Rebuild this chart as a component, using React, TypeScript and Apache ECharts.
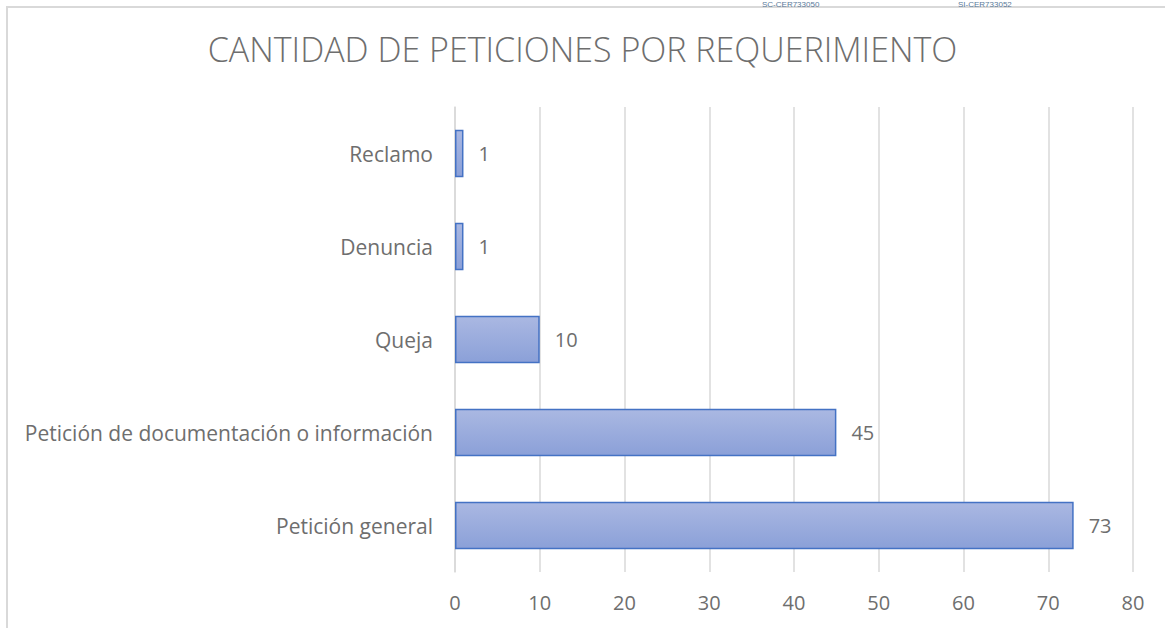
import React, { useEffect, useRef } from "react";
import * as echarts from "echarts";

const categories = ["Petición general", "Petición de documentación o información", "Queja", "Denuncia", "Reclamo"];
const values = [73, 45, 10, 1, 1];
const xTicks = [0, 10, 20, 30, 40, 50, 60, 70, 80];
const titleText = "CANTIDAD DE PETICIONES POR REQUERIMIENTO";
const FONT = "Open Sans";
const TEXT = "#6e6e6e";

export default function App() {
  const ref = useRef<HTMLDivElement>(null);
  useEffect(() => {
    const chart = echarts.init(ref.current!, null, { renderer: "svg" });
    chart.setOption({
      animation: false,
      backgroundColor: "#ffffff",
      title: {
        text: titleText,
        left: "center",
        top: 27,
        textStyle: { fontFamily: FONT, fontWeight: 300, fontSize: 34, color: TEXT },
      },
      grid: { left: 455, right: 32, top: 107, bottom: 56, containLabel: false },
      xAxis: {
        type: "value",
        min: xTicks[0],
        max: xTicks[xTicks.length - 1],
        interval: 10,
        axisLine: { show: false },
        axisTick: { show: false },
        axisLabel: { color: TEXT, fontSize: 20, fontFamily: FONT, margin: 20 },
        splitLine: { show: true, lineStyle: { color: "#d9d9d9", width: 1.5 } },
      },
      yAxis: {
        type: "category",
        data: categories,
        axisLine: { show: true, lineStyle: { color: "#d9d9d9", width: 1.5 } },
        axisTick: { show: false },
        axisLabel: { color: TEXT, fontSize: 21, fontFamily: FONT, margin: 22 },
      },
      series: [
        {
          type: "bar",
          data: values,
          barWidth: "51%",
          itemStyle: {
            color: new echarts.graphic.LinearGradient(0, 0, 0, 1, [
              { offset: 0, color: "#aab8e2" },
              { offset: 1, color: "#8ba0d8" },
            ]),
            borderColor: "#4472c4",
            borderWidth: 1.5,
          },
          label: {
            show: true,
            position: "right",
            distance: 15,
            color: TEXT,
            fontSize: 20,
            fontFamily: FONT,
          },
        },
      ],
      graphic: [
        {
          type: "rect",
          shape: { x: 7, y: 7, width: 1200, height: 700 },
          style: { fill: "none", stroke: "#d9d9d9", lineWidth: 2 },
          silent: true,
        },
        {
          type: "text",
          x: 762,
          y: 0,
          style: { text: "SC-CER733050", fontSize: 8, fill: "#5a7a9a", fontFamily: "Liberation Sans" },
        },
        {
          type: "text",
          x: 958,
          y: 0,
          style: { text: "SI-CER733052", fontSize: 8, fill: "#5a7a9a", fontFamily: "Liberation Sans" },
        },
      ],
    });
    return () => chart.dispose();
  }, []);
  return <div ref={ref} style={{ position: "fixed", left: 0, top: 0, width: 1165, height: 628 }} />;
}
